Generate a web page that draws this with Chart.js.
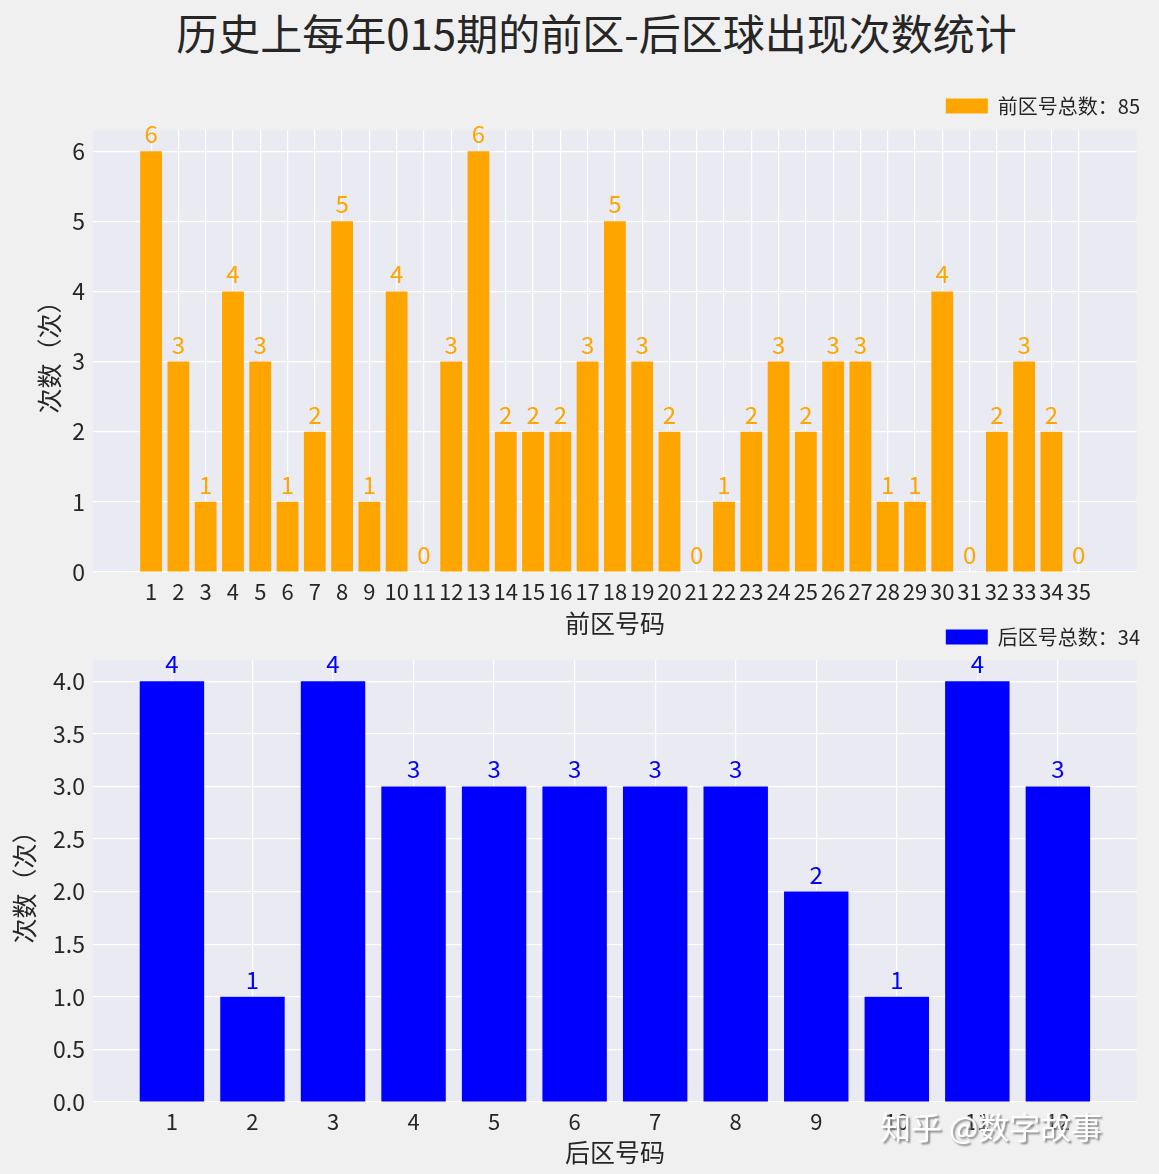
<!DOCTYPE html>
<html>
<head>
<meta charset="utf-8">
<script src="https://cdn.jsdelivr.net/npm/chart.js@4.4.0/dist/chart.umd.min.js"></script>
<style>
html,body{margin:0;padding:0;background:#F0F0F0;}
body{width:1159px;height:1174px;position:relative;overflow:hidden;font-family:'Noto Sans CJK SC',sans-serif;}
#title{position:absolute;left:0;width:1193px;top:6px;text-align:center;font-size:42px;color:#262626;line-height:52px;white-space:nowrap;}
.box{position:absolute;left:0;width:1159px;}
#wm{position:absolute;left:880px;top:1104px;font-size:31px;color:#ffffff;text-shadow:2px 2px 2px #8a8a8a;white-space:nowrap;line-height:44px;}
</style>
</head>
<body>
<div id="title">历史上每年015期的前区-后区球出现次数统计</div>
<div class="box" style="top:0;height:650px"><canvas id="c1" width="1159" height="650"></canvas></div>
<div class="box" style="top:600px;height:574px"><canvas id="c2" width="1159" height="574"></canvas></div>
<div id="wm">知乎 @数字故事</div>
<script>
// ---- data ----
const frontNumbers = [1,2,3,4,5,6,7,8,9,10,11,12,13,14,15,16,17,18,19,20,21,22,23,24,25,26,27,28,29,30,31,32,33,34,35];
const frontCounts  = [6,3,1,4,3,1,2,5,1,4,0,3,6,2,2,2,3,5,3,2,0,1,2,3,2,3,3,1,1,4,0,2,3,2,0];
const backNumbers  = [1,2,3,4,5,6,7,8,9,10,11,12];
const backCounts   = [4,1,4,3,3,3,3,3,2,1,4,3];
const frontYTicks  = [0,1,2,3,4,5,6];
const backYTicks   = [0,0.5,1,1.5,2,2.5,3,3.5,4];
const frontLegendPrefix = '前区号总数：';
const backLegendPrefix  = '后区号总数：';
const frontXTitle = '前区号码';
const backXTitle  = '后区号码';
const yTitle = '次数（次）';

const FONT = "'Noto Sans CJK SC', sans-serif";
const TXT = '#262626';

const bgPlugin = {
  id: 'plotBg',
  beforeDraw(chart) {
    const {ctx, chartArea: a} = chart;
    ctx.save();
    ctx.fillStyle = '#EAEAF2';
    ctx.fillRect(a.left, a.top, a.right - a.left, a.bottom - a.top);
    ctx.restore();
  }
};
const labelPlugin = {
  id: 'barLabels',
  afterDatasetsDraw(chart) {
    const ctx = chart.ctx;
    chart.data.datasets.forEach((ds, i) => {
      const meta = chart.getDatasetMeta(i);
      ctx.save();
      ctx.font = '24px ' + FONT;
      ctx.fillStyle = ds.backgroundColor;
      ctx.textAlign = 'center';
      ctx.textBaseline = 'alphabetic';
      meta.data.forEach((el, j) => {
        ctx.fillText(String(ds.data[j].y), el.x, el.y - 8);
      });
      ctx.restore();
    });
  }
};

function makeChart(id, cfg) {
  const total = cfg.counts.reduce((a, b) => a + b, 0);
  return new Chart(document.getElementById(id), {
    type: 'bar',
    data: {
      datasets: [{
        label: cfg.legendPrefix + total,
        data: cfg.nums.map((n, i) => ({x: n, y: cfg.counts[i]})),
        backgroundColor: cfg.color,
        borderWidth: 0,
        barPercentage: 0.8,
        categoryPercentage: 1.0
      }]
    },
    options: {
      responsive: false,
      devicePixelRatio: 1,
      animation: false,
      layout: {padding: {top: cfg.padTop, right: 9, left: 0, bottom: 0}},
      plugins: {
        tooltip: {enabled: false},
        legend: {
          position: 'top',
          align: 'end',
          labels: {boxWidth: 42, boxHeight: 15, padding: 10, color: TXT, font: {family: FONT, size: 20}}
        },
        // empty spacer boxes (no text) to fine-tune the plot area position
        subtitle: {display: true, text: '', position: 'top', weight: 500, fullSize: false, font: {size: 1}, padding: {top: 0, bottom: cfg.gapTop}},
        title: {display: true, text: '', position: 'right', weight: 500, fullSize: false, font: {size: 1}, padding: {top: 6, bottom: 6}}
      },
      scales: {
        x: {
          type: 'linear',
          bounds: 'data',
          min: cfg.xMin,
          max: cfg.xMax,
          offset: false,
          grid: {color: '#FFFFFF', lineWidth: 1.2, drawTicks: false, offset: false},
          border: {display: false},
          ticks: {autoSkip: false, maxRotation: 0, minRotation: 0, padding: 6, color: TXT, font: {family: FONT, size: 22},
                  callback: v => String(v)},
          afterBuildTicks: s => { s.ticks = cfg.nums.map(v => ({value: v})); },
          afterFit: s => { s.height = cfg.xAxisH; },
          title: {display: true, text: cfg.xTitle, color: TXT, font: {family: FONT, size: 25}, padding: {top: 0, bottom: cfg.xTitlePad}}
        },
        y: {
          type: 'linear',
          bounds: 'data',
          min: 0,
          max: cfg.yMax,
          grid: {color: '#FFFFFF', lineWidth: 1.2, drawTicks: false},
          border: {display: false},
          ticks: {padding: 8, color: TXT, font: {family: FONT, size: 23}, callback: cfg.yFmt},
          afterBuildTicks: s => { s.ticks = cfg.yTicks.map(v => ({value: v})); },
          afterFit: s => { s.width = 93; },
          title: {display: true, text: yTitle, color: TXT, font: {family: FONT, size: 25}, padding: {top: cfg.yTitlePad, bottom: 0}}
        }
      }
    },
    plugins: [bgPlugin, labelPlugin]
  });
}

makeChart('c1', {
  nums: frontNumbers, counts: frontCounts, color: '#FFA500', legendPrefix: frontLegendPrefix,
  xMin: -1.13, xMax: 37.13, yMax: 6.3, yTicks: frontYTicks, yFmt: v => String(v),
  padTop: 86, gapTop: 3, xAxisH: 78, xTitlePad: 12, yTitlePad: 34, xTitle: frontXTitle
});
makeChart('c2', {
  nums: backNumbers, counts: backCounts, color: '#0000FF', legendPrefix: backLegendPrefix,
  xMin: 0.02, xMax: 12.98, yMax: 4.2, yTicks: backYTicks, yFmt: v => Number(v).toFixed(1),
  padTop: 17, gapTop: 2, xAxisH: 72, xTitlePad: 7, yTitlePad: 9, xTitle: backXTitle
});
</script>
</body>
</html>
